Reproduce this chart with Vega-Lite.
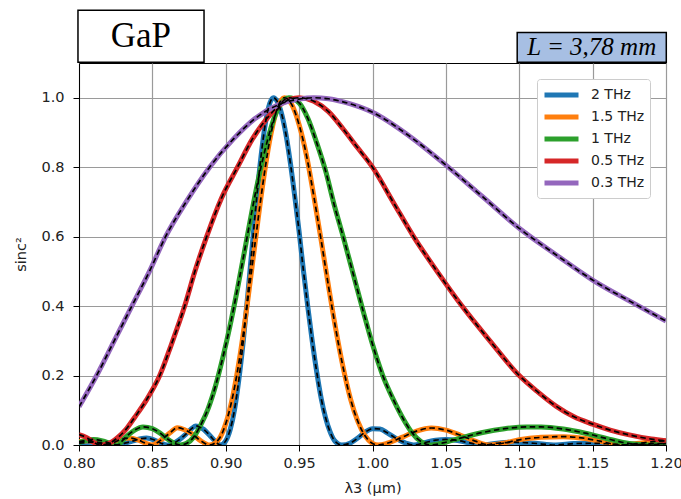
{
  "$schema": "https://vega.github.io/schema/vega-lite/v6.json",
  "width": 587,
  "height": 382,
  "autosize": {"type": "none"},
  "padding": {"left": 79, "top": 63, "right": 15, "bottom": 54},
  "background": "white",
  "config": {
    "view": {"stroke": "#000", "strokeWidth": 1},
    "font": "DejaVu Sans",
    "axis": {
      "labelFont": "DejaVu Sans", "titleFont": "DejaVu Sans",
      "labelFontSize": 14.5, "titleFontSize": 14.5, "titleFontWeight": "normal",
      "labelColor": "#222", "titleColor": "#222",
      "gridColor": "#9a9a9a", "gridWidth": 1.2, "gridOpacity": 1,
      "tickColor": "#000", "tickSize": 6, "domainColor": "#000",
      "labelFlush": false, "labelOverlap": false
    },
    "legend": {
      "labelFont": "DejaVu Sans", "labelFontSize": 14, "labelColor": "#222"
    }
  },
  "datasets": {
    "curves": [
      {"series": "2 THz", "lambda": 0.80, "sinc2": 0.005},
      {"series": "2 THz", "lambda": 0.81, "sinc2": 0.008},
      {"series": "2 THz", "lambda": 0.818, "sinc2": 0.004},
      {"series": "2 THz", "lambda": 0.8242, "sinc2": 0.0},
      {"series": "2 THz", "lambda": 0.832, "sinc2": 0.006},
      {"series": "2 THz", "lambda": 0.837, "sinc2": 0.012},
      {"series": "2 THz", "lambda": 0.842, "sinc2": 0.018},
      {"series": "2 THz", "lambda": 0.846, "sinc2": 0.02},
      {"series": "2 THz", "lambda": 0.851, "sinc2": 0.015},
      {"series": "2 THz", "lambda": 0.856, "sinc2": 0.005},
      {"series": "2 THz", "lambda": 0.8603, "sinc2": 0.0},
      {"series": "2 THz", "lambda": 0.864, "sinc2": 0.004},
      {"series": "2 THz", "lambda": 0.868, "sinc2": 0.014},
      {"series": "2 THz", "lambda": 0.873, "sinc2": 0.032},
      {"series": "2 THz", "lambda": 0.877, "sinc2": 0.048},
      {"series": "2 THz", "lambda": 0.8795, "sinc2": 0.055},
      {"series": "2 THz", "lambda": 0.882, "sinc2": 0.052},
      {"series": "2 THz", "lambda": 0.885, "sinc2": 0.045},
      {"series": "2 THz", "lambda": 0.889, "sinc2": 0.028},
      {"series": "2 THz", "lambda": 0.893, "sinc2": 0.01},
      {"series": "2 THz", "lambda": 0.8964, "sinc2": 0.0},
      {"series": "2 THz", "lambda": 0.900, "sinc2": 0.012},
      {"series": "2 THz", "lambda": 0.903, "sinc2": 0.044},
      {"series": "2 THz", "lambda": 0.906, "sinc2": 0.102},
      {"series": "2 THz", "lambda": 0.909, "sinc2": 0.191},
      {"series": "2 THz", "lambda": 0.912, "sinc2": 0.302},
      {"series": "2 THz", "lambda": 0.915, "sinc2": 0.432},
      {"series": "2 THz", "lambda": 0.918, "sinc2": 0.571},
      {"series": "2 THz", "lambda": 0.921, "sinc2": 0.708},
      {"series": "2 THz", "lambda": 0.924, "sinc2": 0.83},
      {"series": "2 THz", "lambda": 0.927, "sinc2": 0.926},
      {"series": "2 THz", "lambda": 0.930, "sinc2": 0.984},
      {"series": "2 THz", "lambda": 0.9325, "sinc2": 1.0},
      {"series": "2 THz", "lambda": 0.935, "sinc2": 0.99},
      {"series": "2 THz", "lambda": 0.938, "sinc2": 0.955},
      {"series": "2 THz", "lambda": 0.941, "sinc2": 0.895},
      {"series": "2 THz", "lambda": 0.944, "sinc2": 0.813},
      {"series": "2 THz", "lambda": 0.947, "sinc2": 0.717},
      {"series": "2 THz", "lambda": 0.950, "sinc2": 0.614},
      {"series": "2 THz", "lambda": 0.953, "sinc2": 0.5},
      {"series": "2 THz", "lambda": 0.956, "sinc2": 0.395},
      {"series": "2 THz", "lambda": 0.959, "sinc2": 0.297},
      {"series": "2 THz", "lambda": 0.962, "sinc2": 0.21},
      {"series": "2 THz", "lambda": 0.965, "sinc2": 0.135},
      {"series": "2 THz", "lambda": 0.968, "sinc2": 0.079},
      {"series": "2 THz", "lambda": 0.971, "sinc2": 0.039},
      {"series": "2 THz", "lambda": 0.974, "sinc2": 0.0134},
      {"series": "2 THz", "lambda": 0.979, "sinc2": 0.0},
      {"series": "2 THz", "lambda": 0.985, "sinc2": 0.006},
      {"series": "2 THz", "lambda": 0.990, "sinc2": 0.02},
      {"series": "2 THz", "lambda": 0.995, "sinc2": 0.037},
      {"series": "2 THz", "lambda": 1.000, "sinc2": 0.047},
      {"series": "2 THz", "lambda": 1.005, "sinc2": 0.046},
      {"series": "2 THz", "lambda": 1.010, "sinc2": 0.035},
      {"series": "2 THz", "lambda": 1.017, "sinc2": 0.017},
      {"series": "2 THz", "lambda": 1.023, "sinc2": 0.005},
      {"series": "2 THz", "lambda": 1.028, "sinc2": 0.0},
      {"series": "2 THz", "lambda": 1.035, "sinc2": 0.006},
      {"series": "2 THz", "lambda": 1.043, "sinc2": 0.014},
      {"series": "2 THz", "lambda": 1.050, "sinc2": 0.016},
      {"series": "2 THz", "lambda": 1.058, "sinc2": 0.013},
      {"series": "2 THz", "lambda": 1.066, "sinc2": 0.006},
      {"series": "2 THz", "lambda": 1.075, "sinc2": 0.0},
      {"series": "2 THz", "lambda": 1.085, "sinc2": 0.005},
      {"series": "2 THz", "lambda": 1.097, "sinc2": 0.008},
      {"series": "2 THz", "lambda": 1.110, "sinc2": 0.005},
      {"series": "2 THz", "lambda": 1.125, "sinc2": 0.0},
      {"series": "2 THz", "lambda": 1.137, "sinc2": 0.004},
      {"series": "2 THz", "lambda": 1.150, "sinc2": 0.005},
      {"series": "2 THz", "lambda": 1.162, "sinc2": 0.003},
      {"series": "2 THz", "lambda": 1.175, "sinc2": 0.0},
      {"series": "2 THz", "lambda": 1.188, "sinc2": 0.003},
      {"series": "2 THz", "lambda": 1.200, "sinc2": 0.004},

      {"series": "1.5 THz", "lambda": 0.800, "sinc2": 0.01},
      {"series": "1.5 THz", "lambda": 0.806, "sinc2": 0.012},
      {"series": "1.5 THz", "lambda": 0.812, "sinc2": 0.007},
      {"series": "1.5 THz", "lambda": 0.818, "sinc2": 0.0},
      {"series": "1.5 THz", "lambda": 0.823, "sinc2": 0.006},
      {"series": "1.5 THz", "lambda": 0.828, "sinc2": 0.015},
      {"series": "1.5 THz", "lambda": 0.834, "sinc2": 0.02},
      {"series": "1.5 THz", "lambda": 0.840, "sinc2": 0.015},
      {"series": "1.5 THz", "lambda": 0.845, "sinc2": 0.006},
      {"series": "1.5 THz", "lambda": 0.850, "sinc2": 0.0},
      {"series": "1.5 THz", "lambda": 0.853, "sinc2": 0.006},
      {"series": "1.5 THz", "lambda": 0.857, "sinc2": 0.018},
      {"series": "1.5 THz", "lambda": 0.862, "sinc2": 0.035},
      {"series": "1.5 THz", "lambda": 0.867, "sinc2": 0.05},
      {"series": "1.5 THz", "lambda": 0.872, "sinc2": 0.044},
      {"series": "1.5 THz", "lambda": 0.877, "sinc2": 0.032},
      {"series": "1.5 THz", "lambda": 0.883, "sinc2": 0.012},
      {"series": "1.5 THz", "lambda": 0.889, "sinc2": 0.0},
      {"series": "1.5 THz", "lambda": 0.895, "sinc2": 0.015},
      {"series": "1.5 THz", "lambda": 0.900, "sinc2": 0.0615},
      {"series": "1.5 THz", "lambda": 0.905, "sinc2": 0.145},
      {"series": "1.5 THz", "lambda": 0.910, "sinc2": 0.265},
      {"series": "1.5 THz", "lambda": 0.915, "sinc2": 0.416},
      {"series": "1.5 THz", "lambda": 0.920, "sinc2": 0.582},
      {"series": "1.5 THz", "lambda": 0.925, "sinc2": 0.743},
      {"series": "1.5 THz", "lambda": 0.930, "sinc2": 0.878},
      {"series": "1.5 THz", "lambda": 0.935, "sinc2": 0.968},
      {"series": "1.5 THz", "lambda": 0.940, "sinc2": 1.0},
      {"series": "1.5 THz", "lambda": 0.945, "sinc2": 0.98},
      {"series": "1.5 THz", "lambda": 0.950, "sinc2": 0.922},
      {"series": "1.5 THz", "lambda": 0.955, "sinc2": 0.834},
      {"series": "1.5 THz", "lambda": 0.960, "sinc2": 0.717},
      {"series": "1.5 THz", "lambda": 0.965, "sinc2": 0.59},
      {"series": "1.5 THz", "lambda": 0.970, "sinc2": 0.458},
      {"series": "1.5 THz", "lambda": 0.975, "sinc2": 0.333},
      {"series": "1.5 THz", "lambda": 0.980, "sinc2": 0.223},
      {"series": "1.5 THz", "lambda": 0.985, "sinc2": 0.133},
      {"series": "1.5 THz", "lambda": 0.990, "sinc2": 0.068},
      {"series": "1.5 THz", "lambda": 0.995, "sinc2": 0.026},
      {"series": "1.5 THz", "lambda": 1.000, "sinc2": 0.0046},
      {"series": "1.5 THz", "lambda": 1.004, "sinc2": 0.0},
      {"series": "1.5 THz", "lambda": 1.010, "sinc2": 0.005},
      {"series": "1.5 THz", "lambda": 1.020, "sinc2": 0.022},
      {"series": "1.5 THz", "lambda": 1.030, "sinc2": 0.04},
      {"series": "1.5 THz", "lambda": 1.040, "sinc2": 0.049},
      {"series": "1.5 THz", "lambda": 1.050, "sinc2": 0.043},
      {"series": "1.5 THz", "lambda": 1.060, "sinc2": 0.028},
      {"series": "1.5 THz", "lambda": 1.070, "sinc2": 0.011},
      {"series": "1.5 THz", "lambda": 1.080, "sinc2": 0.0},
      {"series": "1.5 THz", "lambda": 1.090, "sinc2": 0.006},
      {"series": "1.5 THz", "lambda": 1.100, "sinc2": 0.015},
      {"series": "1.5 THz", "lambda": 1.115, "sinc2": 0.022},
      {"series": "1.5 THz", "lambda": 1.130, "sinc2": 0.024},
      {"series": "1.5 THz", "lambda": 1.145, "sinc2": 0.019},
      {"series": "1.5 THz", "lambda": 1.155, "sinc2": 0.011},
      {"series": "1.5 THz", "lambda": 1.169, "sinc2": 0.0},
      {"series": "1.5 THz", "lambda": 1.180, "sinc2": 0.004},
      {"series": "1.5 THz", "lambda": 1.190, "sinc2": 0.009},
      {"series": "1.5 THz", "lambda": 1.200, "sinc2": 0.012},

      {"series": "1 THz", "lambda": 0.800, "sinc2": 0.007},
      {"series": "1 THz", "lambda": 0.804, "sinc2": 0.012},
      {"series": "1 THz", "lambda": 0.810, "sinc2": 0.016},
      {"series": "1 THz", "lambda": 0.816, "sinc2": 0.012},
      {"series": "1 THz", "lambda": 0.822, "sinc2": 0.004},
      {"series": "1 THz", "lambda": 0.8266, "sinc2": 0.0},
      {"series": "1 THz", "lambda": 0.829, "sinc2": 0.01},
      {"series": "1 THz", "lambda": 0.833, "sinc2": 0.027},
      {"series": "1 THz", "lambda": 0.838, "sinc2": 0.043},
      {"series": "1 THz", "lambda": 0.8436, "sinc2": 0.052},
      {"series": "1 THz", "lambda": 0.850, "sinc2": 0.047},
      {"series": "1 THz", "lambda": 0.855, "sinc2": 0.035},
      {"series": "1 THz", "lambda": 0.860, "sinc2": 0.018},
      {"series": "1 THz", "lambda": 0.865, "sinc2": 0.005},
      {"series": "1 THz", "lambda": 0.869, "sinc2": 0.0},
      {"series": "1 THz", "lambda": 0.873, "sinc2": 0.004},
      {"series": "1 THz", "lambda": 0.878, "sinc2": 0.022},
      {"series": "1 THz", "lambda": 0.883, "sinc2": 0.058},
      {"series": "1 THz", "lambda": 0.888, "sinc2": 0.105},
      {"series": "1 THz", "lambda": 0.893, "sinc2": 0.17},
      {"series": "1 THz", "lambda": 0.898, "sinc2": 0.252},
      {"series": "1 THz", "lambda": 0.903, "sinc2": 0.345},
      {"series": "1 THz", "lambda": 0.908, "sinc2": 0.45},
      {"series": "1 THz", "lambda": 0.913, "sinc2": 0.563},
      {"series": "1 THz", "lambda": 0.918, "sinc2": 0.677},
      {"series": "1 THz", "lambda": 0.923, "sinc2": 0.781},
      {"series": "1 THz", "lambda": 0.928, "sinc2": 0.87},
      {"series": "1 THz", "lambda": 0.933, "sinc2": 0.942},
      {"series": "1 THz", "lambda": 0.938, "sinc2": 0.985},
      {"series": "1 THz", "lambda": 0.943, "sinc2": 1.0},
      {"series": "1 THz", "lambda": 0.950, "sinc2": 0.985},
      {"series": "1 THz", "lambda": 0.956, "sinc2": 0.94},
      {"series": "1 THz", "lambda": 0.962, "sinc2": 0.87},
      {"series": "1 THz", "lambda": 0.968, "sinc2": 0.79},
      {"series": "1 THz", "lambda": 0.974, "sinc2": 0.69},
      {"series": "1 THz", "lambda": 0.980, "sinc2": 0.6},
      {"series": "1 THz", "lambda": 0.987, "sinc2": 0.49},
      {"series": "1 THz", "lambda": 0.994, "sinc2": 0.38},
      {"series": "1 THz", "lambda": 1.000, "sinc2": 0.29},
      {"series": "1 THz", "lambda": 1.007, "sinc2": 0.2},
      {"series": "1 THz", "lambda": 1.0143, "sinc2": 0.13},
      {"series": "1 THz", "lambda": 1.021, "sinc2": 0.075},
      {"series": "1 THz", "lambda": 1.027, "sinc2": 0.035},
      {"series": "1 THz", "lambda": 1.033, "sinc2": 0.01},
      {"series": "1 THz", "lambda": 1.0393, "sinc2": 0.0},
      {"series": "1 THz", "lambda": 1.048, "sinc2": 0.006},
      {"series": "1 THz", "lambda": 1.060, "sinc2": 0.02},
      {"series": "1 THz", "lambda": 1.075, "sinc2": 0.036},
      {"series": "1 THz", "lambda": 1.090, "sinc2": 0.047},
      {"series": "1 THz", "lambda": 1.105, "sinc2": 0.052},
      {"series": "1 THz", "lambda": 1.115, "sinc2": 0.052},
      {"series": "1 THz", "lambda": 1.130, "sinc2": 0.046},
      {"series": "1 THz", "lambda": 1.145, "sinc2": 0.034},
      {"series": "1 THz", "lambda": 1.160, "sinc2": 0.018},
      {"series": "1 THz", "lambda": 1.170, "sinc2": 0.008},
      {"series": "1 THz", "lambda": 1.180, "sinc2": 0.002},
      {"series": "1 THz", "lambda": 1.187, "sinc2": 0.0},
      {"series": "1 THz", "lambda": 1.195, "sinc2": 0.002},
      {"series": "1 THz", "lambda": 1.200, "sinc2": 0.004},

      {"series": "0.5 THz", "lambda": 0.800, "sinc2": 0.03},
      {"series": "0.5 THz", "lambda": 0.805, "sinc2": 0.022},
      {"series": "0.5 THz", "lambda": 0.810, "sinc2": 0.008},
      {"series": "0.5 THz", "lambda": 0.814, "sinc2": 0.0},
      {"series": "0.5 THz", "lambda": 0.820, "sinc2": 0.004},
      {"series": "0.5 THz", "lambda": 0.826, "sinc2": 0.02},
      {"series": "0.5 THz", "lambda": 0.832, "sinc2": 0.045},
      {"series": "0.5 THz", "lambda": 0.838, "sinc2": 0.08},
      {"series": "0.5 THz", "lambda": 0.846, "sinc2": 0.13},
      {"series": "0.5 THz", "lambda": 0.855, "sinc2": 0.2},
      {"series": "0.5 THz", "lambda": 0.863, "sinc2": 0.29},
      {"series": "0.5 THz", "lambda": 0.872, "sinc2": 0.4},
      {"series": "0.5 THz", "lambda": 0.879, "sinc2": 0.5},
      {"series": "0.5 THz", "lambda": 0.887, "sinc2": 0.6},
      {"series": "0.5 THz", "lambda": 0.897, "sinc2": 0.71},
      {"series": "0.5 THz", "lambda": 0.908, "sinc2": 0.8},
      {"series": "0.5 THz", "lambda": 0.918, "sinc2": 0.88},
      {"series": "0.5 THz", "lambda": 0.928, "sinc2": 0.94},
      {"series": "0.5 THz", "lambda": 0.938, "sinc2": 0.983},
      {"series": "0.5 THz", "lambda": 0.950, "sinc2": 1.0},
      {"series": "0.5 THz", "lambda": 0.960, "sinc2": 0.99},
      {"series": "0.5 THz", "lambda": 0.970, "sinc2": 0.96},
      {"series": "0.5 THz", "lambda": 0.980, "sinc2": 0.91},
      {"series": "0.5 THz", "lambda": 0.990, "sinc2": 0.855},
      {"series": "0.5 THz", "lambda": 1.000, "sinc2": 0.8},
      {"series": "0.5 THz", "lambda": 1.014, "sinc2": 0.7},
      {"series": "0.5 THz", "lambda": 1.028, "sinc2": 0.6},
      {"series": "0.5 THz", "lambda": 1.044, "sinc2": 0.5},
      {"series": "0.5 THz", "lambda": 1.061, "sinc2": 0.4},
      {"series": "0.5 THz", "lambda": 1.080, "sinc2": 0.3},
      {"series": "0.5 THz", "lambda": 1.100, "sinc2": 0.2},
      {"series": "0.5 THz", "lambda": 1.112, "sinc2": 0.155},
      {"series": "0.5 THz", "lambda": 1.125, "sinc2": 0.112},
      {"series": "0.5 THz", "lambda": 1.137, "sinc2": 0.082},
      {"series": "0.5 THz", "lambda": 1.150, "sinc2": 0.06},
      {"series": "0.5 THz", "lambda": 1.162, "sinc2": 0.043},
      {"series": "0.5 THz", "lambda": 1.175, "sinc2": 0.029},
      {"series": "0.5 THz", "lambda": 1.190, "sinc2": 0.017},
      {"series": "0.5 THz", "lambda": 1.200, "sinc2": 0.012},

      {"series": "0.3 THz", "lambda": 0.800, "sinc2": 0.11},
      {"series": "0.3 THz", "lambda": 0.812, "sinc2": 0.2},
      {"series": "0.3 THz", "lambda": 0.824, "sinc2": 0.3},
      {"series": "0.3 THz", "lambda": 0.836, "sinc2": 0.4},
      {"series": "0.3 THz", "lambda": 0.848, "sinc2": 0.5},
      {"series": "0.3 THz", "lambda": 0.859, "sinc2": 0.6},
      {"series": "0.3 THz", "lambda": 0.873, "sinc2": 0.7},
      {"series": "0.3 THz", "lambda": 0.889, "sinc2": 0.8},
      {"series": "0.3 THz", "lambda": 0.905, "sinc2": 0.88},
      {"series": "0.3 THz", "lambda": 0.920, "sinc2": 0.94},
      {"series": "0.3 THz", "lambda": 0.935, "sinc2": 0.978},
      {"series": "0.3 THz", "lambda": 0.950, "sinc2": 0.996},
      {"series": "0.3 THz", "lambda": 0.960, "sinc2": 1.0},
      {"series": "0.3 THz", "lambda": 0.970, "sinc2": 0.997},
      {"series": "0.3 THz", "lambda": 0.985, "sinc2": 0.982},
      {"series": "0.3 THz", "lambda": 1.000, "sinc2": 0.958},
      {"series": "0.3 THz", "lambda": 1.025, "sinc2": 0.89},
      {"series": "0.3 THz", "lambda": 1.050, "sinc2": 0.806},
      {"series": "0.3 THz", "lambda": 1.075, "sinc2": 0.715},
      {"series": "0.3 THz", "lambda": 1.100, "sinc2": 0.624},
      {"series": "0.3 THz", "lambda": 1.125, "sinc2": 0.548},
      {"series": "0.3 THz", "lambda": 1.150, "sinc2": 0.475},
      {"series": "0.3 THz", "lambda": 1.175, "sinc2": 0.415},
      {"series": "0.3 THz", "lambda": 1.200, "sinc2": 0.357}
    ]
  },
  "data": {"name": "curves"},
  "layer": [
    {
      "mark": {"type": "line", "strokeWidth": 5, "interpolate": "monotone", "clip": true},
      "encoding": {
        "x": {"field": "lambda", "type": "quantitative",
              "scale": {"domain": [0.8, 1.2], "nice": false, "zero": false},
              "axis": {"title": "λ3 (µm)", "values": [0.8, 0.85, 0.9, 0.95, 1.0, 1.05, 1.1, 1.15, 1.2], "format": ".2f", "labelPadding": 5, "titlePadding": 12}},
        "y": {"field": "sinc2", "type": "quantitative",
              "scale": {"domain": [0, 1.1], "nice": false, "zero": false},
              "axis": {"title": "sinc²", "values": [0, 0.2, 0.4, 0.6, 0.8, 1.0], "format": ".1f", "labelPadding": 9, "titlePadding": 12}},
        "color": {"field": "series", "type": "nominal",
                  "scale": {"domain": ["2 THz", "1.5 THz", "1 THz", "0.5 THz", "0.3 THz"],
                            "range": ["#1f77b4", "#ff7f0e", "#2ca02c", "#d62728", "#9467bd"]},
                  "legend": {"title": null, "orient": "none", "legendX": 458, "legendY": 16,
                             "symbolType": "M-1,0H3", "symbolStrokeWidth": 5, "symbolSize": 289,
                             "labelOffset": 27, "rowPadding": 1, "padding": 5,
                             "strokeColor": "#cccccc", "fillColor": "white", "cornerRadius": 3}},
        "order": {"field": "lambda", "type": "quantitative"}
      }
    },
    {
      "mark": {"type": "line", "strokeWidth": 1.7, "color": "#000", "strokeDash": [5.5, 3.5], "interpolate": "monotone", "clip": true},
      "encoding": {
        "x": {"field": "lambda", "type": "quantitative"},
        "y": {"field": "sinc2", "type": "quantitative"},
        "detail": {"field": "series", "type": "nominal"}
      }
    },
    {
      "data": {"values": [{}]},
      "mark": {"type": "rect", "fill": "white", "stroke": "#000", "strokeWidth": 1.5, "clip": false},
      "encoding": {
        "x": {"datum": 0.7993}, "x2": {"datum": 0.8852},
        "y": {"datum": 1.102}, "y2": {"datum": 1.252}
      }
    },
    {
      "data": {"values": [{}]},
      "mark": {"type": "text", "text": "GaP", "font": "Liberation Serif", "fontSize": 35, "color": "#000", "align": "center", "baseline": "middle", "clip": false},
      "encoding": {
        "x": {"datum": 0.8422}, "y": {"datum": 1.177}
      }
    },
    {
      "data": {"values": [{}]},
      "mark": {"type": "rect", "fill": "#a7bfe3", "stroke": "#000", "strokeWidth": 1.5, "clip": false},
      "encoding": {
        "x": {"datum": 1.0986}, "x2": {"datum": 1.2002},
        "y": {"datum": 1.102}, "y2": {"datum": 1.188}
      }
    },
    {
      "data": {"values": [{}]},
      "mark": {"type": "text", "text": "L = 3,78 mm", "font": "Liberation Serif", "fontStyle": "italic", "fontSize": 25, "color": "#000", "align": "center", "baseline": "middle", "clip": false},
      "encoding": {
        "x": {"datum": 1.1494}, "y": {"datum": 1.145}
      }
    }
  ]
}
